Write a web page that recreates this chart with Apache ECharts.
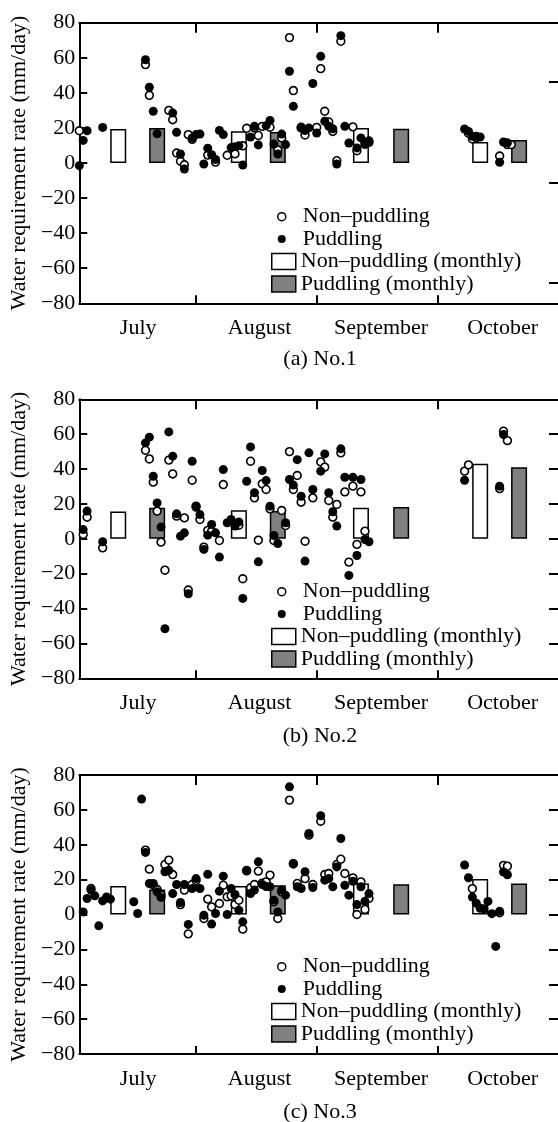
<!DOCTYPE html>
<html><head><meta charset="utf-8">
<script src="https://cdn.jsdelivr.net/npm/echarts@6/dist/echarts.min.js"></script>
<style>html,body{margin:0;padding:0;background:#fff}#c{width:558px;height:1122px}</style>
</head><body><div id="c"></div>
<script>
// ---------------- data ----------------
const months = ['July', 'August', 'September', 'October'];
const monthDays = [31, 31, 30, 31];
const panelTitles = ['(a) No.1', '(b) No.2', '(c) No.3'];
const yAxisTitle = 'Water requirement rate (mm/day)';
const seriesNames = ['Non\u2013puddling', 'Puddling', 'Non\u2013puddling (monthly)', 'Puddling (monthly)'];
// day of monthly bars within each month
const barDayNP = 11, barDayP = 21;

// daily points: [day counted from July 1 (=1), mm/day]
const np1 = [[1,18.4],[18,56.1],[19,38.6],[24,30],[25,24.7],[26,5.7],[27,1],[28,-1],[29,16.2],[30,13.5],[34,4.5],[36,0.5],[39,4.4],[41,5.2],[43,9.8],[44,19.8],[46,20],[47,15.7],[48,20.9],[50,20.4],[52,7.5],[53,14.3],[55,71.5],[56,41.3],[58,20],[59,16],[62,20.3],[63,53.8],[64,29.5],[65,23.4],[66,18],[67,1.3],[68,69.4],[71,20.6],[72,7],[74,11.4],[75,11.8],[100,17],[101,13.7],[102,14.5],[108,4],[110,10.5],[111,10.5]];
const p1 = [[1,-1.5],[2,12.9],[3,18.4],[7,20.3],[18,58.9],[19,43.2],[20,29.5],[21,16.7],[25,28.5],[26,17.5],[27,5.1],[28,-3.4],[30,14.3],[31,16.2],[32,16.5],[33,-0.6],[34,8.4],[35,4.7],[36,2],[37,18.6],[38,16.2],[40,8.8],[41,9.3],[42,9.8],[43,-1.2],[45,14.8],[46,20.9],[47,10.3],[49,21.3],[50,24.3],[51,10.8],[52,5.1],[53,16.5],[54,10.5],[55,52.3],[56,32.3],[58,20.5],[59,18.5],[60,20],[61,45.3],[62,17.1],[63,60.8],[64,23.8],[65,20.9],[66,19.5],[67,-0.6],[68,72.6],[69,20.9],[70,11.4],[72,8.6],[73,14.3],[74,10.5],[75,12.7],[99,19.4],[100,18],[101,15.2],[102,15.2],[103,14.8],[108,0.4],[109,12],[110,11.5]];
const np2 = [[2,2.5],[3,12.4],[7,-5.2],[18,50.8],[19,45.8],[20,32.5],[21,15.9],[22,-1.9],[23,-18],[24,45.1],[25,37.2],[26,13],[28,12],[29,-29.4],[30,33.6],[31,18.7],[32,11.1],[33,-4.8],[34,4.8],[35,4.4],[37,-1],[38,31.1],[41,8.5],[42,7.8],[43,-22.9],[45,44.5],[46,23.5],[47,-0.8],[48,31.5],[49,28.3],[50,17.2],[51,-1],[53,16.2],[54,7.6],[55,50],[56,28.3],[57,36.3],[58,21],[59,-1.4],[61,23.5],[63,44.1],[64,41.1],[65,22],[66,12.4],[67,19.7],[68,49.3],[69,26.9],[70,-13.4],[71,30.2],[72,-3.2],[73,26.9],[74,4.4],[99,38.8],[100,42.4],[108,28.8],[109,61.7],[110,56.3]];
const p2 = [[2,5.3],[3,15.9],[7,-1.7],[18,55],[19,58.3],[20,35.9],[21,20.6],[22,6.7],[23,-51.6],[24,61.3],[25,47.4],[26,14.3],[27,1.5],[28,3.4],[29,-31.5],[30,44.5],[31,18.1],[32,13.9],[33,-6.1],[34,2.1],[35,8.2],[36,3.4],[37,-10.5],[38,39.7],[39,9.2],[40,11.1],[41,7.3],[42,9.7],[43,-34.2],[44,33],[45,52.7],[46,26.4],[47,-13.2],[48,39.2],[49,33.4],[50,18.7],[51,1.9],[52,-2.7],[54,9.2],[55,34],[56,30.8],[57,45.4],[58,24.4],[59,-12.8],[60,49.3],[61,28.3],[63,38.8],[64,48.7],[65,26.4],[66,15.5],[67,7.3],[68,51.6],[69,35.3],[70,-21],[71,35.3],[72,-9.6],[73,34],[74,-0.4],[75,-1.7],[99,33.6],[108,30.2],[109,59.8]];
const np3 = [[4,14.9],[18,36.9],[19,26],[20,17],[21,14.3],[22,11.1],[23,28.7],[24,31.2],[25,22.9],[27,5.7],[28,14],[29,-11.1],[30,17.2],[31,19.5],[33,-2.3],[34,8.8],[35,4.4],[37,6.3],[38,16.8],[39,10.1],[40,10.7],[41,5.7],[42,8.2],[43,-8.4],[44,25],[45,15.3],[46,17.2],[47,24.9],[48,18],[49,18.7],[50,22.6],[51,7.3],[52,-2.3],[53,13],[55,65.6],[56,29],[57,17.8],[59,20.6],[60,45.5],[61,17.2],[63,53.5],[64,22.9],[65,23.5],[67,28.7],[68,31.7],[69,23.5],[71,21],[72,0],[73,18.7],[74,2.9],[75,9.2],[101,14.8],[108,1],[109,28.2],[110,27.7]];
const p3 = [[2,1.5],[3,9.2],[4,14],[5,10.7],[6,-6.5],[7,7.8],[8,10.1],[9,8.8],[15,7.3],[16,0.6],[17,66.2],[18,35.6],[19,17.8],[20,17.8],[21,13],[22,9.8],[23,24.5],[24,25.4],[25,12],[26,17.2],[27,6.9],[28,17.2],[29,-5.7],[30,14.9],[31,20.6],[32,14.9],[33,-0.4],[34,23.1],[35,-5.5],[36,0.6],[37,13.4],[38,22],[39,0],[40,14.9],[41,11.5],[42,2.5],[43,-4.2],[44,25.4],[45,12],[46,14],[47,30.2],[48,17.2],[49,16],[50,15.9],[51,8.2],[52,1.5],[53,14],[54,11.1],[55,73.2],[56,29.3],[57,15.9],[58,14.9],[59,24.5],[60,46.5],[61,15.5],[63,56.6],[64,19.7],[65,20.6],[66,15.9],[67,27.3],[68,43.6],[69,16.8],[70,11.1],[71,19.1],[72,5.7],[73,15.9],[74,7.6],[75,12],[99,28.4],[100,21.1],[101,10],[102,6.5],[103,3.6],[104,3.3],[105,7.5],[106,0.5],[107,-18.3],[108,1.8],[109,24.4],[110,22.8]];

// monthly averages (July..October)
const npMonthly1 = [19.4, 18.1, 20.0, 12.0];
const pMonthly1  = [20.0, 17.7, 19.6, 13.1];
const npMonthly2 = [15.7, 16.4, 17.8, 43.0];
const pMonthly2  = [17.8, 15.9, 18.3, 41.1];
const npMonthly3 = [16.3, 16.4, 17.8, 20.3];
const pMonthly3  = [14.3, 16.8, 17.4, 17.8];

// right-hand frame tick marks seen in each panel
const rightTicks1 = [46.5, -11, -68.5];
const rightTicks23 = [-60, -40, -20, 0, 20, 40, 60];

// ---------------- build ----------------
const panels = [
  {np: np1, p: p1, npM: npMonthly1, pM: pMonthly1, rt: rightTicks1, top: 22.7, h: 280.6, leg: 216.7, title: 359},
  {np: np2, p: p2, npM: npMonthly2, pM: pMonthly2, rt: rightTicks23, top: 399.3, h: 279, leg: 591.7, title: 736},
  {np: np3, p: p3, npM: npMonthly3, pM: pMonthly3, rt: rightTicks23, top: 775, h: 279, leg: 966.7, title: 1112}
];

function monthPos(m, d) { return m + d / monthDays[m]; }
function dayToX(t) {
  let m = 0, d = t;
  while (m < 3 && d > monthDays[m]) { d -= monthDays[m]; m++; }
  return monthPos(m, d);
}
const FONT = 'Liberation Serif';
const black = '#000';
const xMin = monthPos(0, 1), xMax = 4;
const monthTickVals = [1, 2, 3];
const monthLabelVals = months.map((_, m) => m + 0.52 + 0.007 * m);
const minusFmt = v => (v < 0 ? '\u2212' + Math.abs(v) : String(v));

const grid = [], xAxis = [], yAxis = [], series = [], legend = [], graphic = [];
panels.forEach((P, i) => {
  grid.push({left: 79, top: P.top, width: 481, height: P.h, containLabel: false});
  xAxis.push({
    type: 'value', gridIndex: i, position: 'bottom', min: xMin, max: xMax,
    axisLine: {show: true, onZero: false, lineStyle: {color: black, width: 2}},
    axisTick: {show: true, inside: true, length: 8, customValues: monthTickVals, lineStyle: {color: black, width: 2}},
    axisLabel: {show: true, customValues: monthLabelVals, formatter: v => months[Math.floor(v)],
      color: black, fontFamily: FONT, fontSize: 22, margin: 14},
    splitLine: {show: false}
  });
  xAxis.push({
    type: 'value', gridIndex: i, position: 'top', min: xMin, max: xMax,
    axisLine: {show: true, onZero: false, lineStyle: {color: black, width: 2}},
    axisTick: {show: true, inside: true, length: 10, customValues: monthTickVals, lineStyle: {color: black, width: 2}},
    axisLabel: {show: false}, splitLine: {show: false}
  });
  yAxis.push({
    type: 'value', gridIndex: i, position: 'left', min: -80, max: 80, interval: 20,
    name: yAxisTitle, nameLocation: 'middle', nameGap: 46, nameRotate: 90,
    nameTextStyle: {color: black, fontFamily: FONT, fontSize: 22},
    axisLine: {show: true, onZero: false, lineStyle: {color: black, width: 2}},
    axisTick: {show: true, inside: true, length: 8, lineStyle: {color: black, width: 2}},
    axisLabel: {color: black, fontFamily: FONT, fontSize: 22, margin: 4, formatter: minusFmt},
    splitLine: {show: false}
  });
  yAxis.push({
    type: 'value', gridIndex: i, position: 'right', min: -80, max: 80, interval: 20,
    axisLine: {show: false, onZero: false},
    axisTick: {show: true, inside: true, length: 9, customValues: P.rt, lineStyle: {color: black, width: 2}},
    axisLabel: {show: false}, splitLine: {show: false}
  });
  const xi = 2 * i, yi = 2 * i;
  series.push({
    name: seriesNames[2], type: 'bar', xAxisIndex: xi, yAxisIndex: yi, barWidth: 16, barGap: '-100%',
    itemStyle: {color: '#fff', borderColor: black, borderWidth: 1.5}, z: 2,
    data: P.npM.map((v, m) => [monthPos(m, barDayNP), v])
  });
  series.push({
    name: seriesNames[3], type: 'bar', xAxisIndex: xi, yAxisIndex: yi, barWidth: 16, barGap: '-100%',
    itemStyle: {color: '#808080', borderColor: black, borderWidth: 1.5}, z: 2,
    data: P.pM.map((v, m) => [monthPos(m, barDayP), v])
  });
  series.push({
    name: seriesNames[0], type: 'scatter', xAxisIndex: xi, yAxisIndex: yi, symbol: 'circle', symbolSize: 7.8,
    itemStyle: {color: '#fff', borderColor: black, borderWidth: 1.6, opacity: 1}, z: 3,
    data: P.np.map(([t, v]) => [dayToX(t), v])
  });
  series.push({
    name: seriesNames[1], type: 'scatter', xAxisIndex: xi, yAxisIndex: yi, symbol: 'circle', symbolSize: 9,
    itemStyle: {color: black, opacity: 1}, z: 4,
    data: P.p.map(([t, v]) => [dayToX(t), v])
  });
  legend.push({
    data: [seriesNames[0], seriesNames[1]], orient: 'vertical', left: 277, top: P.leg - 11.2,
    padding: 0, itemGap: 0, itemWidth: 24, itemHeight: 8, icon: 'circle', selectedMode: false,
    itemStyle: {borderWidth: 1.5},
    textStyle: {color: black, fontFamily: FONT, fontSize: 22, lineHeight: 22.4, padding: [0, 0, 0, 4]}
  });
  legend.push({
    data: [seriesNames[2], seriesNames[3]], orient: 'vertical', left: 271, top: P.leg + 2 * 22.4 - 11.2,
    padding: 0, itemGap: 0, itemWidth: 24, itemHeight: 16, icon: 'rect', selectedMode: false,
    itemStyle: {borderWidth: 1.5},
    textStyle: {color: black, fontFamily: FONT, fontSize: 22, lineHeight: 22.4}
  });
  graphic.push({
    type: 'text', x: 320, y: P.title,
    style: {text: panelTitles[i], fill: black, font: '22px "Liberation Serif"', align: 'center', verticalAlign: 'middle'}
  });
});

const chart = echarts.init(document.getElementById('c'), null, {renderer: 'canvas'});
chart.setOption({
  backgroundColor: '#fff', animation: false,
  grid, xAxis, yAxis, series, legend, graphic
});
</script></body></html>
